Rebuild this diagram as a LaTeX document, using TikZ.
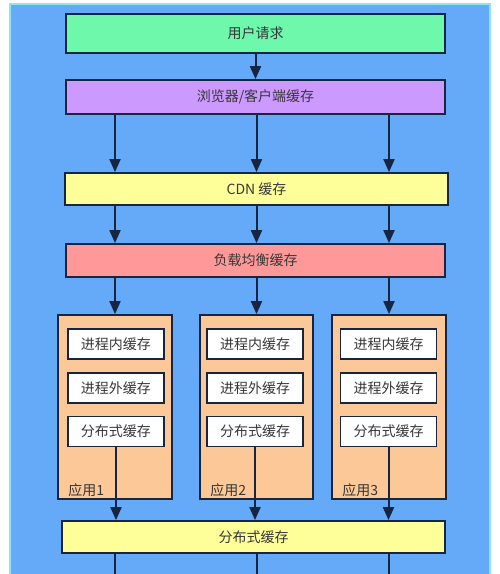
\documentclass[tikz,border=0pt]{standalone}
\usepackage{fontspec}
\newfontfamily\cjk{Noto Sans CJK SC}
\usetikzlibrary{arrows.meta}
\definecolor{bgblue}{RGB}{100,170,248}
\definecolor{bgedge}{RGB}{140,230,235}
\definecolor{usergreen}{RGB}{110,248,172}
\definecolor{browserpurple}{RGB}{204,153,255}
\definecolor{cacheyellow}{RGB}{255,255,153}
\definecolor{lbpink}{RGB}{255,153,153}
\definecolor{apporange}{RGB}{252,200,152}
\definecolor{lineblue}{RGB}{22,38,66}
\definecolor{textgray}{RGB}{55,55,55}
\begin{document}
\begin{tikzpicture}[x=1pt,y=-1pt,
	layer/.style={draw=lineblue,line width=1.8pt,inner sep=0pt,text=textgray,font=\cjk\fontsize{14}{16}\selectfont},
	cachebox/.style={layer,fill=white,minimum width=96pt,minimum height=30pt},
	appbox/.style={draw=lineblue,line width=1.8pt,fill=apporange,minimum width=114pt,minimum height=184pt},
	applabel/.style={anchor=south west,inner sep=0pt,text=textgray,font=\cjk\fontsize{14}{16}\selectfont},
	arr/.style={draw=lineblue,line width=2pt,-{Triangle[width=11pt,length=13pt]}},
	link/.style={draw=lineblue,line width=2pt}]
	\useasboundingbox(0,0)rectangle(500,574);
	\fill[white](0,0)rectangle(500,574);
	\draw[bgedge,line width=2pt,fill=bgblue](10,4)rectangle(490,590);
	\node[layer,fill=usergreen,minimum width=379pt,minimum height=39pt](user)at(255.5,33.5){用户请求};
	\node[layer,fill=browserpurple,minimum width=379pt,minimum height=34pt](browser)at(255.5,97){浏览器/客户端缓存};
	\node[layer,fill=cacheyellow,minimum width=383pt,minimum height=32pt](cdn)at(256.5,189){CDN 缓存};
	\node[layer,fill=lbpink,minimum width=379pt,minimum height=33pt](lb)at(255.5,260.5){负载均衡缓存};
	\node[appbox](app1)at(115,407){};
	\node[appbox,minimum width=113pt](app2)at(256.5,407){};
	\node[appbox](app3)at(389,407){};
	\node[layer,fill=cacheyellow,minimum width=383pt,minimum height=32pt](dist)at(253.5,537){分布式缓存};
	\foreach \i/\x in {1/116,2/255,3/388.5}{
		\node[cachebox](inproc\i)at(\x,344){进程内缓存};
		\node[cachebox](outproc\i)at(\x,388){进程外缓存};
		\node[cachebox](distlocal\i)at(\x,431.5){分布式缓存};
		\node[applabel](label\i)at([xshift=11pt,yshift=2.5pt]app\i.south west){应用\i};
	}
	\coordinate(bottom)at(250,580);
	\draw[arr](user)--(browser);
	\foreach \i in {1,2,3}{
		\draw[arr](browser.south-|app\i)--(cdn.north-|app\i);
		\draw[arr](cdn.south-|app\i)--(lb.north-|app\i);
		\draw[arr](lb.south-|app\i)--(app\i.north);
		\draw[arr](distlocal\i.south)--(dist.north-|distlocal\i);
		\draw[link](dist.south-|app\i)--(bottom-|app\i);
	}
\end{tikzpicture}
\end{document}
